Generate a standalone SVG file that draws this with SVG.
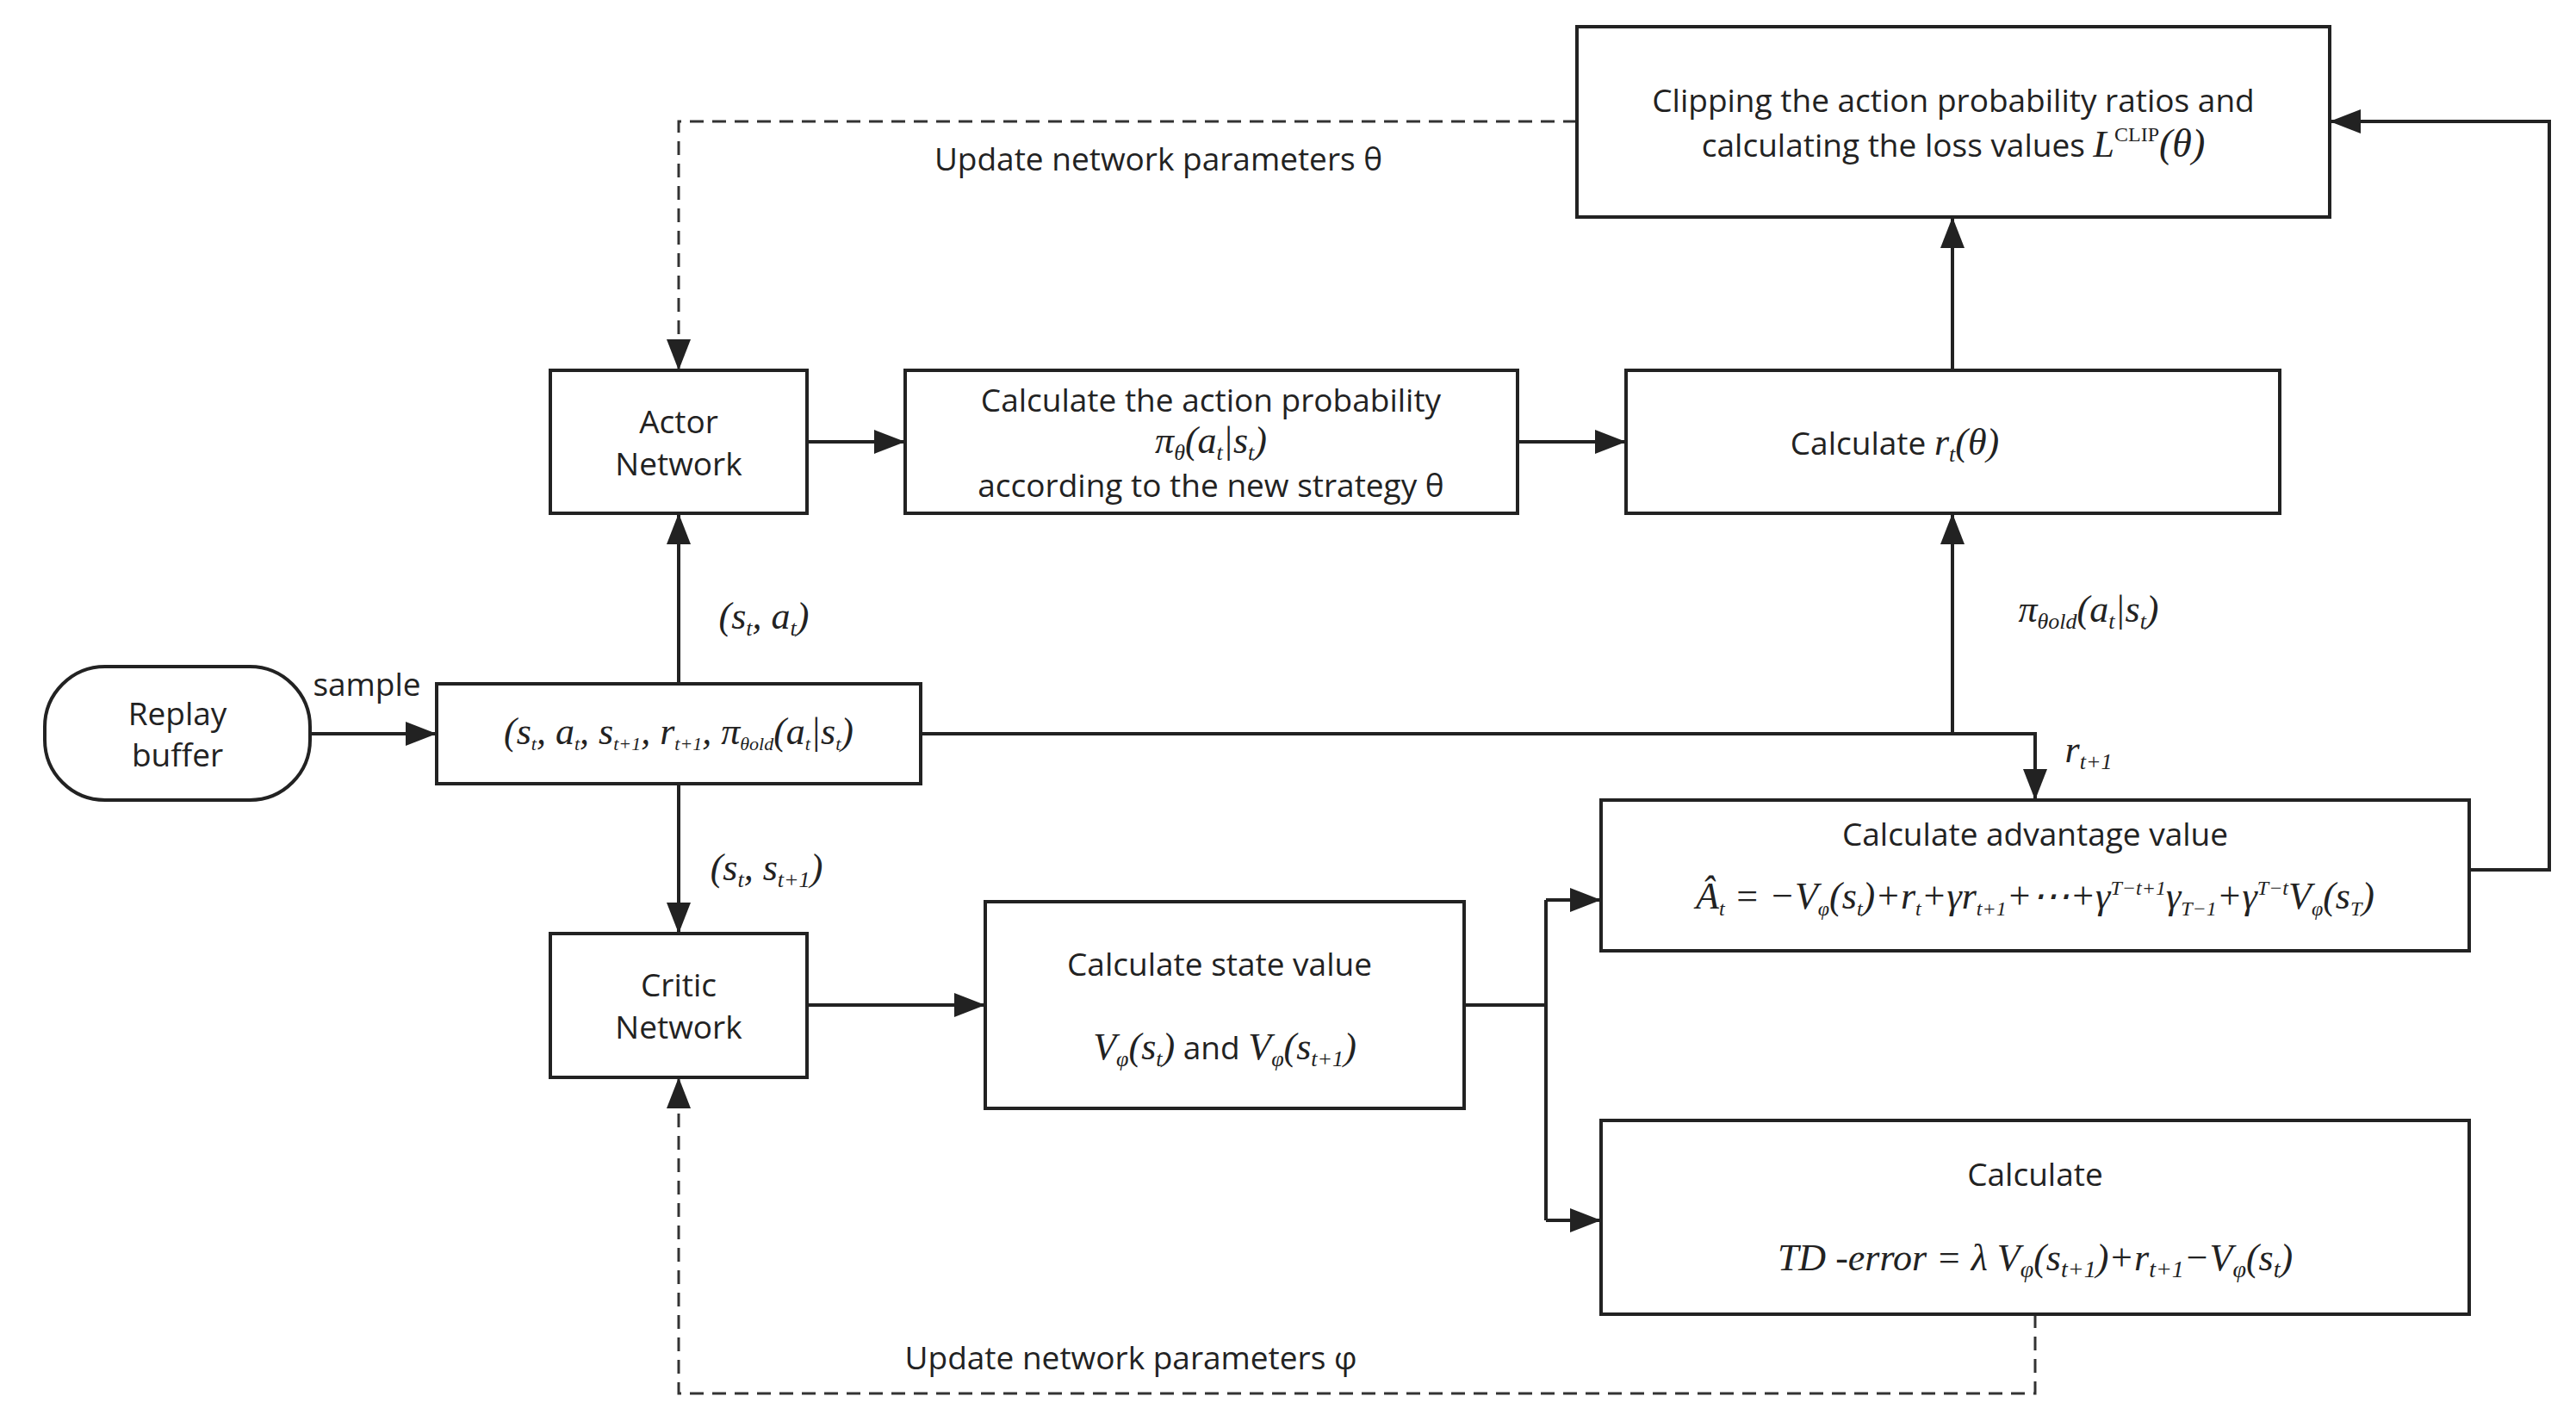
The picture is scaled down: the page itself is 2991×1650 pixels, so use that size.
<svg xmlns="http://www.w3.org/2000/svg" width="2991" height="1650" viewBox="0 0 2991 1650">
<style>
.b{fill:#fff;stroke:#222;stroke-width:4}
.t{font-family:"Open Sans","Liberation Sans",sans-serif;font-size:37px;fill:#222;text-anchor:middle}
.m{font-family:"Liberation Serif",serif;font-style:italic;font-size:44px;fill:#222;text-anchor:middle}
.c{fill:none;stroke:#222;stroke-width:4}
.d{fill:none;stroke:#333;stroke-width:3;stroke-dasharray:16 10}
</style>
<defs><marker id="a" markerWidth="12" markerHeight="10" refX="11" refY="5" orient="auto" markerUnits="userSpaceOnUse" viewBox="0 0 12 10"><path d="M0,0L12,5L0,10z" fill="#222"/></marker>
<marker id="A" markerWidth="36" markerHeight="28" refX="36" refY="14" orient="auto" markerUnits="userSpaceOnUse"><path d="M0,0L36,14L0,28z" fill="#222"/></marker></defs>
<rect width="2991" height="1650" fill="#fff"/>
<g id="connectors">
<path class="d" d="M1831,141H788V430" marker-end="url(#A)"/>
<path class="c" d="M937,513H1051" marker-end="url(#A)"/>
<path class="c" d="M1762,513H1888" marker-end="url(#A)"/>
<path class="c" d="M2267,430V252" marker-end="url(#A)"/>
<path class="c" d="M788,794V596" marker-end="url(#A)"/>
<path class="c" d="M1069,852H2363V929" marker-end="url(#A)"/>
<path class="c" d="M2267,852V596" marker-end="url(#A)"/>
<path class="c" d="M788,910V1084" marker-end="url(#A)"/>
<path class="c" d="M937,1167H1144" marker-end="url(#A)"/>
<path class="c" d="M1700,1167H1795"/>
<path class="c" d="M1795,1045V1417"/>
<path class="c" d="M1795,1045H1859" marker-end="url(#A)"/>
<path class="c" d="M1795,1417H1859" marker-end="url(#A)"/>
<path class="c" d="M2867,1010H2960V141H2705" marker-end="url(#A)"/>
<path class="d" d="M2363,1526V1618H788V1251" marker-end="url(#A)"/>
<path class="c" d="M360,852H507" marker-end="url(#A)"/>
<text class="t" x="1345" y="198">Update network parameters θ</text>
<text class="t" x="1313" y="1590">Update network parameters φ</text>
<text class="t" x="426" y="808">sample</text>
<text class="m" x="887" y="730">(<tspan>s</tspan><tspan font-size="26" dy="8">t</tspan><tspan dy="-8">, a</tspan><tspan font-size="26" dy="8">t</tspan><tspan dy="-8">)</tspan></text>
<text class="m" x="890" y="1022">(s<tspan font-size="26" dy="8">t</tspan><tspan dy="-8">, s</tspan><tspan font-size="26" dy="8">t+1</tspan><tspan dy="-8">)</tspan></text>
<text class="m" x="2425" y="722">π<tspan font-size="26" dy="8">θold</tspan><tspan dy="-8">(a</tspan><tspan font-size="26" dy="8">t</tspan><tspan dy="-8">|s</tspan><tspan font-size="26" dy="8">t</tspan><tspan dy="-8">)</tspan></text>
<text class="m" x="2425" y="885">r<tspan font-size="26" dy="8">t+1</tspan></text>
</g>
<g id="clip"><rect class="b" x="1831" y="31" width="874" height="221"/>
<text class="t" x="2268" y="130">Clipping the action probability ratios and</text>
<text class="t" x="2268" y="182">calculating the loss values <tspan class="m" font-size="46">L</tspan><tspan font-family="Liberation Serif" font-size="24" dy="-18">CLIP</tspan><tspan font-family="Liberation Serif" font-style="italic" font-size="46" dy="18">(θ)</tspan></text></g>
<g id="actor"><rect class="b" x="639" y="430" width="298" height="166"/>
<text class="t" x="788" y="503">Actor</text><text class="t" x="788" y="552">Network</text></g>
<g id="prob"><rect class="b" x="1051" y="430" width="711" height="166"/>
<text class="t" x="1406" y="478">Calculate the action probability</text>
<text class="m" x="1406" y="526">π<tspan font-size="26" dy="8">θ</tspan><tspan dy="-8">(a</tspan><tspan font-size="26" dy="8">t</tspan><tspan dy="-8">|s</tspan><tspan font-size="26" dy="8">t</tspan><tspan dy="-8">)</tspan></text>
<text class="t" x="1406" y="577">according to the new strategy θ</text></g>
<g id="ratio"><rect class="b" x="1888" y="430" width="759" height="166"/>
<text class="t" x="2200" y="528">Calculate <tspan class="m">r</tspan><tspan font-family="Liberation Serif" font-style="italic" font-size="26" dy="8">t</tspan><tspan font-family="Liberation Serif" font-style="italic" font-size="44" dy="-8">(θ)</tspan></text></g>
<g id="replay"><rect class="b" x="52" y="774" width="308" height="155" rx="70"/>
<text class="t" x="206" y="842">Replay</text><text class="t" x="206" y="890">buffer</text></g>
<g id="tuple"><rect class="b" x="507" y="794" width="562" height="116"/>
<text class="m" x="788" y="864" font-size="38">(s<tspan font-size="22" dy="7">t</tspan><tspan dy="-7">, a</tspan><tspan font-size="22" dy="7">t</tspan><tspan dy="-7">, s</tspan><tspan font-size="22" dy="7">t+1</tspan><tspan dy="-7">, r</tspan><tspan font-size="22" dy="7">t+1</tspan><tspan dy="-7">, π</tspan><tspan font-size="22" dy="7">θold</tspan><tspan dy="-7">(a</tspan><tspan font-size="22" dy="7">t</tspan><tspan dy="-7">|s</tspan><tspan font-size="22" dy="7">t</tspan><tspan dy="-7">)</tspan></text></g>
<g id="critic"><rect class="b" x="639" y="1084" width="298" height="167"/>
<text class="t" x="788" y="1157">Critic</text><text class="t" x="788" y="1206">Network</text></g>
<g id="state"><rect class="b" x="1144" y="1047" width="556" height="240"/>
<text class="t" x="1416" y="1133">Calculate state value</text>
<text class="t" x="1422" y="1230"><tspan class="m">V</tspan><tspan font-family="Liberation Serif" font-style="italic" font-size="26" dy="8">φ</tspan><tspan font-family="Liberation Serif" font-style="italic" font-size="44" dy="-8">(s</tspan><tspan font-family="Liberation Serif" font-style="italic" font-size="26" dy="8">t</tspan><tspan font-family="Liberation Serif" font-style="italic" font-size="44" dy="-8">)</tspan>   and <tspan font-family="Liberation Serif" font-style="italic" font-size="44">V</tspan><tspan font-family="Liberation Serif" font-style="italic" font-size="26" dy="8">φ</tspan><tspan font-family="Liberation Serif" font-style="italic" font-size="44" dy="-8">(s</tspan><tspan font-family="Liberation Serif" font-style="italic" font-size="26" dy="8">t+1</tspan><tspan font-family="Liberation Serif" font-style="italic" font-size="44" dy="-8">)</tspan></text></g>
<g id="adv"><rect class="b" x="1859" y="929" width="1008" height="175"/>
<text class="t" x="2363" y="982">Calculate advantage value</text>
<text class="m" x="2363" y="1055" font-size="40">Â<tspan font-size="24" dy="8">t</tspan><tspan dy="-8"> = −V</tspan><tspan font-size="24" dy="8">φ</tspan><tspan dy="-8">(s</tspan><tspan font-size="24" dy="8">t</tspan><tspan dy="-8">)+r</tspan><tspan font-size="24" dy="8">t</tspan><tspan dy="-8">+γr</tspan><tspan font-size="24" dy="8">t+1</tspan><tspan dy="-8">+⋯+γ</tspan><tspan font-size="24" dy="-16">T−t+1</tspan><tspan dy="16">γ</tspan><tspan font-size="24" dy="8">T−1</tspan><tspan dy="-8">+γ</tspan><tspan font-size="24" dy="-16">T−t</tspan><tspan dy="16">V</tspan><tspan font-size="24" dy="8">φ</tspan><tspan dy="-8">(s</tspan><tspan font-size="24" dy="8">T</tspan><tspan dy="-8">)</tspan></text></g>
<g id="td"><rect class="b" x="1859" y="1301" width="1008" height="225"/>
<text class="t" x="2363" y="1377">Calculate</text>
<text class="m" x="2363" y="1475" font-size="46">TD -error = λ V<tspan font-size="28" dy="8">φ</tspan><tspan dy="-8">(s</tspan><tspan font-size="28" dy="8">t+1</tspan><tspan dy="-8">)+r</tspan><tspan font-size="28" dy="8">t+1</tspan><tspan dy="-8">−V</tspan><tspan font-size="28" dy="8">φ</tspan><tspan dy="-8">(s</tspan><tspan font-size="28" dy="8">t</tspan><tspan dy="-8">)</tspan></text></g>
</svg>
